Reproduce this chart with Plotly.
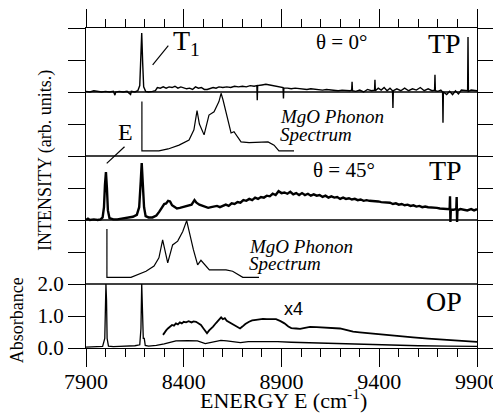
import plotly.graph_objects as go

# ---------------- data ----------------
# Panel 1: theta = 0 deg, TP (intensity, arb. units, 0..1 per panel)
tp0_energy = [7900, 7920, 7940, 7960, 7980, 8000, 8020, 8040, 8048, 8052, 8070, 8090, 8110, 8128, 8132,
              8150, 8165, 8175, 8180, 8185, 8190, 8195, 8205, 8220, 8240, 8255, 8265, 8280, 8295, 8310,
              8325, 8340, 8355, 8370, 8385, 8400, 8415, 8430, 8445, 8460, 8475, 8490, 8505, 8520, 8535,
              8550, 8565, 8580, 8600, 8620, 8640, 8660, 8680, 8700, 8720, 8740, 8760, 8774, 8776, 8778,
              8800, 8820, 8840, 8860, 8880, 8900, 8908, 8910, 8912, 8930, 8950, 8970, 8990, 9010, 9030,
              9050, 9070, 9090, 9110, 9130, 9150, 9170, 9190, 9210, 9230, 9250, 9259, 9261, 9263, 9280,
              9300, 9320, 9340, 9360, 9376, 9378, 9380, 9395, 9410, 9425, 9440, 9455, 9468, 9470, 9472,
              9490, 9510, 9530, 9550, 9570, 9590, 9610, 9630, 9650, 9670, 9683, 9685, 9687, 9700, 9715,
              9724, 9726, 9728, 9745, 9760, 9775, 9790, 9805, 9820, 9835, 9852, 9854, 9856, 9870, 9885,
              9900]
tp0_intensity = [0.01, 0.0, 0.02, 0.01, 0.0, 0.01, 0.0, 0.01, -0.05, 0.0, 0.01, 0.0, 0.01, -0.04, 0.01,
                 0.0, 0.02, 0.1, 0.5, 0.92, 0.45, 0.08, 0.01, 0.0, 0.01, 0.02, 0.07, 0.06, 0.08, 0.06,
                 0.08, 0.07, 0.09, 0.06, 0.08, 0.07, 0.05, 0.06, 0.04, 0.08, 0.06, 0.07, 0.04, 0.04, 0.05,
                 0.07, 0.06, 0.08, 0.07, 0.08, 0.07, 0.09, 0.08, 0.09, 0.08, 0.1, 0.09, 0.1, -0.13, 0.1,
                 0.11, 0.12, 0.11, 0.1, 0.09, 0.07, 0.07, -0.1, 0.06, 0.06, 0.05, 0.06, 0.05, 0.05, 0.04,
                 0.05, 0.04, 0.04, 0.03, 0.04, 0.03, 0.03, 0.02, 0.03, 0.02, 0.02, 0.03, 0.16, 0.02, 0.01,
                 0.03, 0.0, 0.04, 0.02, 0.03, 0.19, 0.02, 0.06, 0.03, 0.07, 0.02, 0.06, 0.02, -0.25, 0.02,
                 0.05, 0.02, 0.06, 0.02, 0.05, 0.03, 0.07, 0.02, 0.05, 0.02, 0.03, 0.27, 0.02, 0.01, 0.03,
                 0.0, -0.48, 0.0, -0.04, 0.01, -0.04, 0.02, -0.03, 0.03, 0.02, 0.02, 0.86, 0.01, 0.03, 0.02,
                 0.02]

# Panel 2: MgO phonon spectrum (aligned on T1)
ph1_energy = [8186, 8186, 8273, 8320, 8376, 8427, 8452, 8468, 8480, 8504, 8529, 8555, 8580, 8591, 8601,
              8626, 8642, 8657, 8693, 8734, 8831, 8862, 8887, 8964]
ph1_intensity = [0.85, 0.08, 0.08, 0.11, 0.17, 0.25, 0.41, 0.71, 0.5, 0.33, 0.64, 0.69, 0.85, 0.98, 0.875,
                 0.56, 0.36, 0.38, 0.22, 0.21, 0.22, 0.17, 0.08, 0.08]

# Panel 3: theta = 45 deg, TP
tp45_energy = [7900, 7910, 7920, 7940, 7960, 7975, 7985, 7992, 7997, 8002, 8007, 8012, 8020, 8040, 8060,
               8080, 8100, 8120, 8140, 8160, 8172, 8180, 8185, 8190, 8197, 8205, 8220, 8240, 8260, 8275,
               8290, 8300, 8310, 8320, 8330, 8340, 8350, 8365, 8380, 8395, 8410, 8425, 8440, 8455, 8465,
               8480, 8495, 8510, 8525, 8540, 8555, 8570, 8585, 8600, 8615, 8630, 8645, 8660, 8675, 8690,
               8705, 8720, 8735, 8750, 8765, 8780, 8795, 8810, 8825, 8840, 8855, 8870, 8885, 8900, 8915,
               8930, 8945, 8960, 8975, 8990, 9005, 9020, 9035, 9050, 9065, 9080, 9095, 9110, 9125, 9140,
               9155, 9170, 9185, 9200, 9215, 9230, 9245, 9260, 9275, 9290, 9305, 9320, 9335, 9350, 9365,
               9380, 9395, 9410, 9425, 9440, 9455, 9470, 9485, 9500, 9515, 9530, 9545, 9560, 9575, 9590,
               9605, 9620, 9635, 9650, 9665, 9680, 9695, 9710, 9725, 9740, 9755, 9760, 9762, 9764, 9766,
               9780, 9794, 9796, 9798, 9800, 9815, 9830, 9850, 9870, 9885, 9900]
tp45_intensity = [0.0, 0.02, 0.0, 0.01, 0.0, 0.01, 0.04, 0.2, 0.55, 0.75, 0.5, 0.15, 0.03, 0.01, 0.01,
                  0.02, 0.03, 0.05, 0.05, 0.08, 0.2, 0.6, 0.89, 0.6, 0.2, 0.06, 0.04, 0.04, 0.07, 0.13,
                  0.2, 0.25, 0.26, 0.3, 0.29, 0.23, 0.21, 0.18, 0.19, 0.2, 0.21, 0.22, 0.24, 0.31, 0.27,
                  0.24, 0.22, 0.21, 0.19, 0.2, 0.21, 0.22, 0.2, 0.22, 0.24, 0.22, 0.26, 0.25, 0.28, 0.27,
                  0.31, 0.3, 0.33, 0.31, 0.35, 0.33, 0.36, 0.35, 0.38, 0.37, 0.41, 0.39, 0.45, 0.42, 0.43,
                  0.41, 0.44, 0.4, 0.42, 0.39, 0.42, 0.39, 0.41, 0.38, 0.4, 0.38, 0.39, 0.36, 0.38, 0.35,
                  0.37, 0.35, 0.36, 0.33, 0.35, 0.33, 0.34, 0.32, 0.33, 0.31, 0.32, 0.3, 0.31, 0.3, 0.3,
                  0.29, 0.29, 0.28, 0.28, 0.27, 0.27, 0.25, 0.26, 0.24, 0.25, 0.23, 0.24, 0.22, 0.23, 0.21,
                  0.22, 0.2, 0.21, 0.2, 0.2, 0.19, 0.19, 0.18, 0.18, 0.17, 0.18, 0.17, 0.37, -0.03, 0.16,
                  0.16, 0.17, 0.36, -0.03, 0.15, 0.17, 0.16, 0.15, 0.17, 0.15, 0.17]

# Panel 4: MgO phonon spectrum (aligned on E)
ph2_energy = [8007, 8007, 8130, 8207, 8248, 8273, 8292, 8305, 8318, 8343, 8369, 8395, 8415, 8428, 8449,
              8471, 8488, 8531, 8616, 8650, 8702, 8785]
ph2_intensity = [0.86, 0.105, 0.105, 0.2, 0.28, 0.41, 0.69, 0.5, 0.33, 0.61, 0.67, 0.82, 0.99, 0.82, 0.54,
                 0.3, 0.37, 0.22, 0.22, 0.2, 0.105, 0.105]

# Panel 5: OP absorbance
op_energy = [7900, 7930, 7960, 7985, 7996, 7999, 8002, 8005, 8008, 8015, 8040, 8070, 8100, 8120, 8150,
             8175, 8181, 8185, 8189, 8193, 8198, 8203, 8220, 8260, 8300, 8340, 8360, 8420, 8470, 8510,
             8550, 8590, 8620, 8690, 8730, 8800, 8880, 8950, 9100, 9250, 9400, 9600, 9750, 9900]
op_absorbance = [0.03, 0.04, 0.03, 0.05, 0.3, 1.5, 2.0, 1.5, 0.3, 0.06, 0.04, 0.05, 0.06, 0.05, 0.07,
                 0.1, 0.6, 2.0, 0.6, 0.3, 0.3, 0.08, 0.06, 0.08, 0.13, 0.18, 0.22, 0.23, 0.22, 0.14,
                 0.18, 0.24, 0.22, 0.17, 0.2, 0.21, 0.2, 0.18, 0.15, 0.12, 0.09, 0.07, 0.06, 0.05]

op_x4_energy = [8294, 8300, 8310, 8319, 8330, 8340, 8350, 8360, 8370, 8380, 8390, 8400, 8412, 8425, 8440,
                8450, 8463, 8475, 8488, 8500, 8510, 8519, 8530, 8540, 8550, 8565, 8580, 8591, 8600, 8610,
                8620, 8635, 8652, 8670, 8688, 8700, 8715, 8734, 8750, 8770, 8790, 8805, 8825, 8850, 8872,
                8895, 8915, 8935, 8950, 8975, 8995, 9020, 9046, 9080, 9120, 9160, 9199, 9230, 9266, 9300,
                9340, 9404, 9450, 9500, 9573, 9650, 9746, 9820, 9900]
op_x4_absorbance = [0.41, 0.48, 0.55, 0.61, 0.66, 0.72, 0.7, 0.77, 0.74, 0.8, 0.77, 0.82, 0.8, 0.84, 0.8,
                    0.83, 0.82, 0.78, 0.72, 0.62, 0.52, 0.46, 0.55, 0.6, 0.67, 0.78, 0.88, 0.96, 0.9, 0.93,
                    0.85, 0.8, 0.72, 0.66, 0.61, 0.67, 0.75, 0.82, 0.86, 0.88, 0.9, 0.91, 0.9, 0.91, 0.9,
                    0.84, 0.77, 0.67, 0.62, 0.61, 0.6, 0.63, 0.66, 0.65, 0.64, 0.63, 0.61, 0.57, 0.51, 0.49,
                    0.47, 0.43, 0.4, 0.37, 0.33, 0.29, 0.25, 0.21, 0.19]

x_ticks = [7900, 8400, 8900, 9400, 9900]
x_tick_labels = ["7900", "8400", "8900", "9400", "9900"]
abs_ticks = [0.0, 1.0, 2.0]
abs_tick_labels = ["0.0", "1.0", "2.0"]

# ---------------- figure ----------------
SERIF = "Liberation Serif"
fig = go.Figure()

def add(x, y, axis, width=1.4):
    fig.add_trace(go.Scatter(x=x, y=y, mode="lines", xaxis="x", yaxis=axis,
                             line=dict(color="black", width=width), showlegend=False,
                             hoverinfo="skip"))

add(tp0_energy, tp0_intensity, "y6", 1.4)
add(ph1_energy, ph1_intensity, "y5", 1.2)
add(tp45_energy, tp45_intensity, "y4", 2.4)
add(ph2_energy, ph2_intensity, "y3", 1.2)
add(op_energy, op_absorbance, "y2", 1.3)
add(op_x4_energy, op_x4_absorbance, "y2", 1.8)

hidden = dict(visible=False, overlaying="y", anchor="x", domain=[0, 1], fixedrange=True)

# the page body has an 8px default margin; the figure is sized/offset to compensate
fig.update_layout(
    width=493, height=405,
    margin=dict(l=78, r=24, t=20, b=65, autoexpand=False),
    paper_bgcolor="white", plot_bgcolor="white",
    font=dict(family=SERIF, color="black", size=20),
    xaxis=dict(range=[7900, 9900], anchor="y", tickvals=x_ticks, ticktext=x_tick_labels,
               ticks="outside", ticklen=18, tickwidth=1.3, tickcolor="black",
               minor=dict(dtick=100, tick0=7900, ticks="outside", ticklen=8, tickwidth=1.3,
                          tickcolor="black", showgrid=False),
               showline=True, linecolor="black", linewidth=1.3, mirror="ticks",
               showgrid=False, zeroline=False, automargin=False,
               tickfont=dict(family=SERIF, size=22), ticklabelstandoff=-5),
    yaxis=dict(range=[0, 10], domain=[0, 1], tick0=0, dtick=1, ticks="outside", ticklen=17,
               tickwidth=1.3, tickcolor="black", showline=True, linecolor="black", linewidth=1.3,
               mirror="ticks", showticklabels=False, showgrid=False, zeroline=False, automargin=False),
    yaxis2=dict(overlaying="y", anchor="x", domain=[0, 1], range=[0, 10],
                tickvals=abs_ticks, ticktext=abs_tick_labels, ticks="outside", ticklen=17,
                tickwidth=1.3, tickcolor="black", showline=False, showgrid=False, zeroline=False,
                automargin=False, tickfont=dict(family=SERIF, size=21)),
    yaxis3=dict(range=[-1, 4], **hidden),
    yaxis4=dict(range=[-2, 3], **hidden),
    yaxis5=dict(range=[-3, 2], **hidden),
    yaxis6=dict(range=[-4, 1], **hidden),
)

# panel separators
for yv in [2, 4, 6, 8]:
    fig.add_shape(type="line", xref="paper", yref="y", x0=0, x1=1, y0=yv, y1=yv,
                  line=dict(color="black", width=1.3))

# pointer lines for T1 and E
fig.add_shape(type="line", xref="x", yref="y", x0=8241, y0=8.85, x1=8321, y1=9.45,
              line=dict(color="black", width=1.2))
fig.add_shape(type="line", xref="x", yref="y", x0=8006, y0=5.77, x1=8097, y1=6.29,
              line=dict(color="black", width=1.2))

def note(text, x, y, size, xanchor="center", family=SERIF):
    fig.add_annotation(text=text, x=x, y=y, xref="x", yref="y", showarrow=False,
                       xanchor=xanchor, yanchor="middle",
                       font=dict(family=family, size=size, color="black"))

note("T<sub>1</sub>", 8335, 9.55, 28, xanchor="left")
note("θ = 0°", 9209, 9.56, 21)
note("TP", 9736, 9.53, 28)
note("<i>MgO Phonon</i>", 8882, 7.22, 19, xanchor="left")
note("<i>Spectrum</i>", 8882, 6.66, 19, xanchor="left")
note("E", 8100, 6.75, 24)
note("θ = 45°", 9220, 5.55, 21)
note("TP", 9741, 5.56, 28)
note("<i>MgO Phonon</i>", 8725, 3.17, 19, xanchor="left")
note("<i>Spectrum</i>", 8725, 2.63, 19, xanchor="left")
note("OP", 9731, 1.44, 28)
note("x4", 8959, 1.22, 18, family="Liberation Sans")

# axis titles
fig.add_annotation(text="INTENSITY (arb. units.)", x=-0.105, y=0.5875, xref="paper", yref="paper",
                   textangle=-90, showarrow=False, xanchor="center", yanchor="middle",
                   font=dict(family=SERIF, size=18, color="black"))
fig.add_annotation(text="Absorbance", x=-0.176, y=0.0875, xref="paper", yref="paper",
                   textangle=-90, showarrow=False, xanchor="center", yanchor="middle",
                   font=dict(family=SERIF, size=18, color="black"))
fig.add_annotation(text="ENERGY E (cm<sup>-1</sup>)", x=0.504, y=-0.158, xref="paper", yref="paper",
                   showarrow=False, xanchor="center", yanchor="middle",
                   font=dict(family=SERIF, size=22, color="black"))

fig.write_html("out.html")
